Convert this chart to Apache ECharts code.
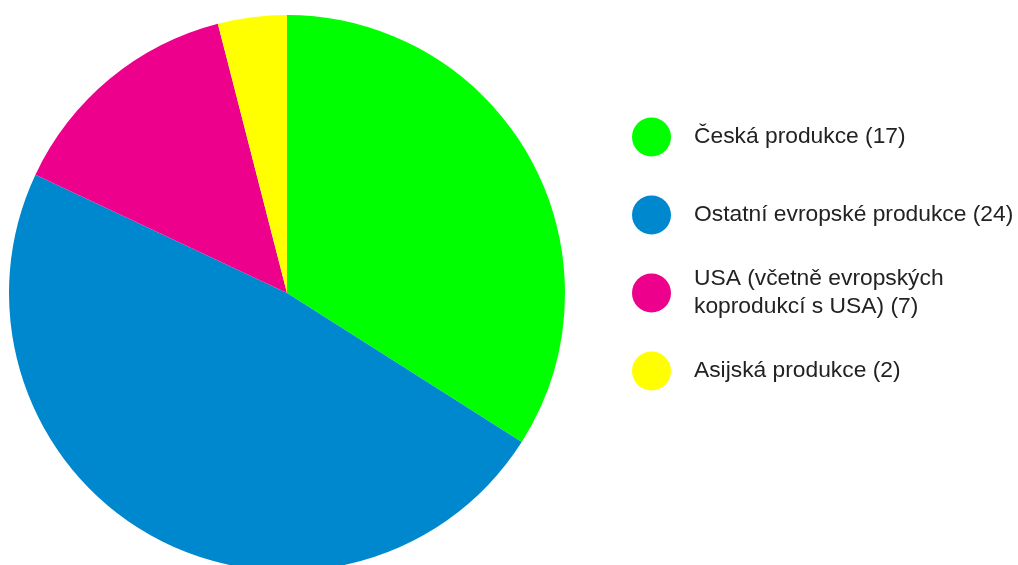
<!DOCTYPE html>
<html>
<head>
<meta charset="utf-8">
<script src="https://cdn.jsdelivr.net/npm/echarts@6/dist/echarts.min.js"></script>
<style>html,body{margin:0;padding:0;background:#fff}#c{width:1018px;height:565px}</style>
</head>
<body>
<div id="c"></div>
<script>
const categories = ['Česká produkce (17)', 'Ostatní evropské produkce (24)', 'USA (včetně evropských\nkoprodukcí s USA) (7)', 'Asijská produkce (2)'];
const values = [17, 24, 7, 2];
const colors = ['#00FF00', '#0088CF', '#EC008C', '#FFFF00'];
const legendCenters = [137, 215, 293, 371];

const chart = echarts.init(document.getElementById('c'), null, {renderer: 'canvas'});
const legends = categories.map((name, i) => {
  const multi = name.indexOf('\n') >= 0;
  return {
    data: [name],
    orient: 'vertical',
    left: 632,
    top: legendCenters[i] - (multi ? 28 : 19.5),
    icon: 'circle',
    itemWidth: 39,
    itemHeight: 39,
    itemGap: 0,
    selectedMode: false,
    padding: 0,
    textStyle: {fontFamily: 'Liberation Sans, Arial, sans-serif', fontSize: 22.8, color: '#222', lineHeight: 28, padding: [0, 0, 0, 18]}
  };
});
chart.setOption({
  animation: false,
  legend: legends,
  series: [{
    type: 'pie',
    center: [287, 293],
    radius: 278,
    startAngle: 90,
    clockwise: true,
    label: {show: false},
    labelLine: {show: false},
    emphasis: {disabled: true},
    itemStyle: {borderWidth: 0},
    data: categories.map((n, i) => ({name: n, value: values[i], itemStyle: {color: colors[i]}}))
  }]
});
</script>
</body>
</html>
